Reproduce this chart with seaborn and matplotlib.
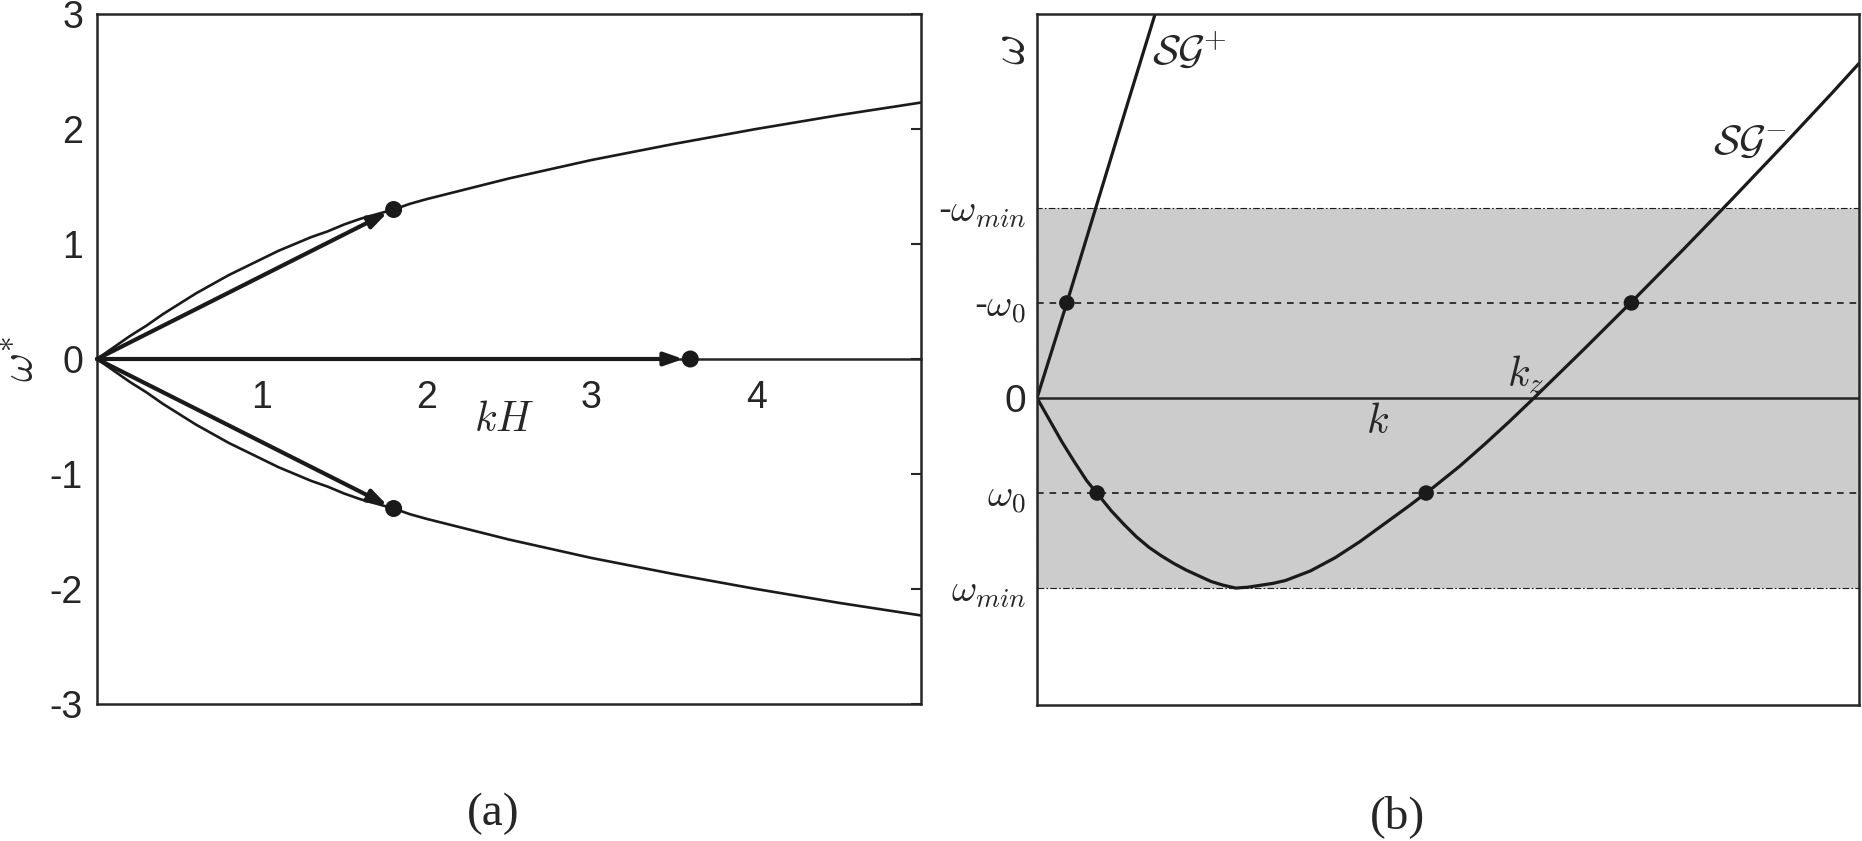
import matplotlib
matplotlib.use('Agg')
import matplotlib.pyplot as plt
import seaborn as sns

# ---- panel (a): omega* against kH ----
kH = [0, 0.1, 0.2, 0.3, 0.4, 0.5, 0.6, 0.7, 0.8, 0.9, 1.0, 1.1, 1.2, 1.3, 1.4, 1.5,
      1.6, 1.7, 1.8, 1.9, 2.0, 2.25, 2.5, 2.75, 3.0, 3.5, 4.0, 4.5, 5.0]
w_up = [0, 0.10, 0.20, 0.29, 0.39, 0.48, 0.57, 0.65, 0.73, 0.80, 0.87, 0.94, 1.00,
        1.06, 1.11, 1.17, 1.22, 1.26, 1.30, 1.35, 1.39, 1.48, 1.57, 1.65, 1.73, 1.87,
        2.00, 2.12, 2.23]
w_lo = [0, -0.10, -0.20, -0.29, -0.39, -0.48, -0.57, -0.65, -0.73, -0.80, -0.87,
        -0.94, -1.00, -1.06, -1.11, -1.17, -1.22, -1.26, -1.30, -1.35, -1.39, -1.48,
        -1.57, -1.65, -1.73, -1.87, -2.00, -2.12, -2.23]
# arrow tips / dots
dot_kH = [1.8, 3.6, 1.8]
dot_w = [1.3, 0.0, -1.3]

# ---- panel (b): sketch of the two branches (arbitrary units) ----
k_plus = [0, 0.06, 0.12, 0.18, 0.24]
w_plus = [0, 1.0, 2.03, 3.06, 4.08]
k_minus = [0, 0.025, 0.05, 0.075, 0.10, 0.125, 0.15, 0.175, 0.20, 0.225, 0.25, 0.275,
           0.30, 0.325, 0.35, 0.375, 0.40, 0.425, 0.45, 0.475, 0.50, 0.55, 0.60, 0.65,
           0.70, 0.75, 0.80, 0.85, 0.90, 0.95, 1.00, 1.10, 1.20, 1.30, 1.40, 1.50,
           1.60, 1.654]
w_minus = [0, -0.23, -0.46, -0.67, -0.87, -1.03, -1.19, -1.33, -1.46, -1.57, -1.66,
           -1.74, -1.81, -1.87, -1.93, -1.97, -2.00, -1.99, -1.97, -1.95, -1.92, -1.82,
           -1.68, -1.51, -1.32, -1.13, -0.93, -0.72, -0.49, -0.25, 0.00, 0.51, 1.03,
           1.56, 2.10, 2.65, 3.21, 3.52]
dots_k = [0.060, 0.121, 0.783, 1.196]
dots_w = [1.0, -1.0, -1.0, 1.0]
band_w = [-2.0, 2.0]        # omega_min , -omega_min
w0_levels = [-1.0, 1.0]     # omega_0 , -omega_0
b_ticks = [-2, -1, 0, 1, 2]
b_ticklabels = [r'$\omega_{min}$', r'$\omega_0$', '0', r'-$\omega_0$', r'-$\omega_{min}$']

sns.set_theme(style='white')
plt.rcParams['font.family'] = ['Liberation Sans', 'DejaVu Sans']
plt.rcParams['mathtext.fontset'] = 'cm'
plt.rcParams['axes.unicode_minus'] = False

frame = '#262626'
W, H = 1862, 841
fig = plt.figure(figsize=(W / 100, H / 100), dpi=100)
ax1 = fig.add_axes([97 / W, 137 / H, 824 / W, 690 / H])
ax2 = fig.add_axes([1037 / W, 136 / H, 822 / W, 691 / H])

for ax in (ax1, ax2):
    for sp in ax.spines.values():
        sp.set_color(frame)
        sp.set_linewidth(1.8)

# ---------------- (a) ----------------
sns.lineplot(x=kH, y=w_up, ax=ax1, color='k', linewidth=1.9)
sns.lineplot(x=kH, y=w_lo, ax=ax1, color='k', linewidth=1.9)
for x, y in zip(dot_kH, dot_w):
    ax1.annotate('', xy=(x, y), xytext=(0, 0),
                 arrowprops=dict(arrowstyle='-|>,head_length=0.8,head_width=0.28',
                                 lw=3.0, color='k', shrinkA=0, shrinkB=5,
                                 mutation_scale=14))
sns.scatterplot(x=dot_kH, y=dot_w, ax=ax1, color='k', s=150, edgecolor='none', zorder=5)

ax1.set_xlim(0, 5)
ax1.set_ylim(-3, 3)
ax1.spines['bottom'].set_position(('data', 0))
ax1.axhline(-3, color=frame, lw=1.8, clip_on=False)
ax1.set_xticks([1, 2, 3, 4])
ax1.set_yticks(range(-3, 4))
ax1.tick_params(axis='both', direction='in', length=7, width=1.5, color=frame,
                labelcolor=frame, labelsize=27)
ax1.tick_params(axis='y', right=True, pad=10)
ax1.tick_params(axis='x', pad=15)
ax1.set_xlabel('')
ax1.set_ylabel('')
ax1.text(2.47, -0.53, '$kH$', fontsize=30, ha='center', va='center')
ax1.text(-0.092, 0.5, r'$\omega^{*}$', transform=ax1.transAxes, rotation=90,
         ha='center', va='center', fontsize=32, color=frame)

# ---------------- (b) ----------------
ax2.axhspan(band_w[0], band_w[1], facecolor='#cccccc', edgecolor='k',
            linestyle=(0, (6, 2, 1.5, 2)), linewidth=0.8, zorder=0)
for lv in w0_levels:
    ax2.axhline(lv, color='k', lw=1.2, dashes=(4, 3.5), zorder=1)
ax2.axhline(0, color=frame, lw=1.8, zorder=1)
sns.lineplot(x=k_plus, y=w_plus, ax=ax2, color='k', linewidth=2.3)
sns.lineplot(x=k_minus, y=w_minus, ax=ax2, color='k', linewidth=2.3)
sns.scatterplot(x=dots_k, y=dots_w, ax=ax2, color='k', s=125, edgecolor='none', zorder=5)

ax2.set_xlim(0, 1.654)
ax2.set_ylim(-3.23, 4.04)
ax2.set_xticks([])
ax2.set_yticks(b_ticks)
ax2.set_yticklabels(b_ticklabels)
ax2.tick_params(axis='y', length=0, pad=8, labelsize=28, labelcolor=frame)
ax2.set_xlabel('')
ax2.set_ylabel('')
ax2.text(-0.030, 0.948, r'$\omega$', transform=ax2.transAxes, rotation=90,
         ha='center', va='center', fontsize=34, color=frame)
ax2.text(0.231, 3.64, r'$\mathcal{SG}^{+}$', fontsize=30, ha='left', va='center')
ax2.text(1.435, 2.68, r'$\mathcal{SG}^{-}$', fontsize=30, ha='center', va='center')
ax2.text(0.686, -0.25, '$k$', fontsize=30, ha='center', va='center')
ax2.text(0.984, 0.24, '$k_z$', fontsize=30, ha='center', va='center')

fig.text(493 / W, 1 - 814 / H, '(a)', family='Liberation Serif', fontsize=34,
         ha='center', va='center')
fig.text(1397 / W, 1 - 817 / H, '(b)', family='Liberation Serif', fontsize=34,
         ha='center', va='center')

fig.savefig('out.png', dpi=100)
